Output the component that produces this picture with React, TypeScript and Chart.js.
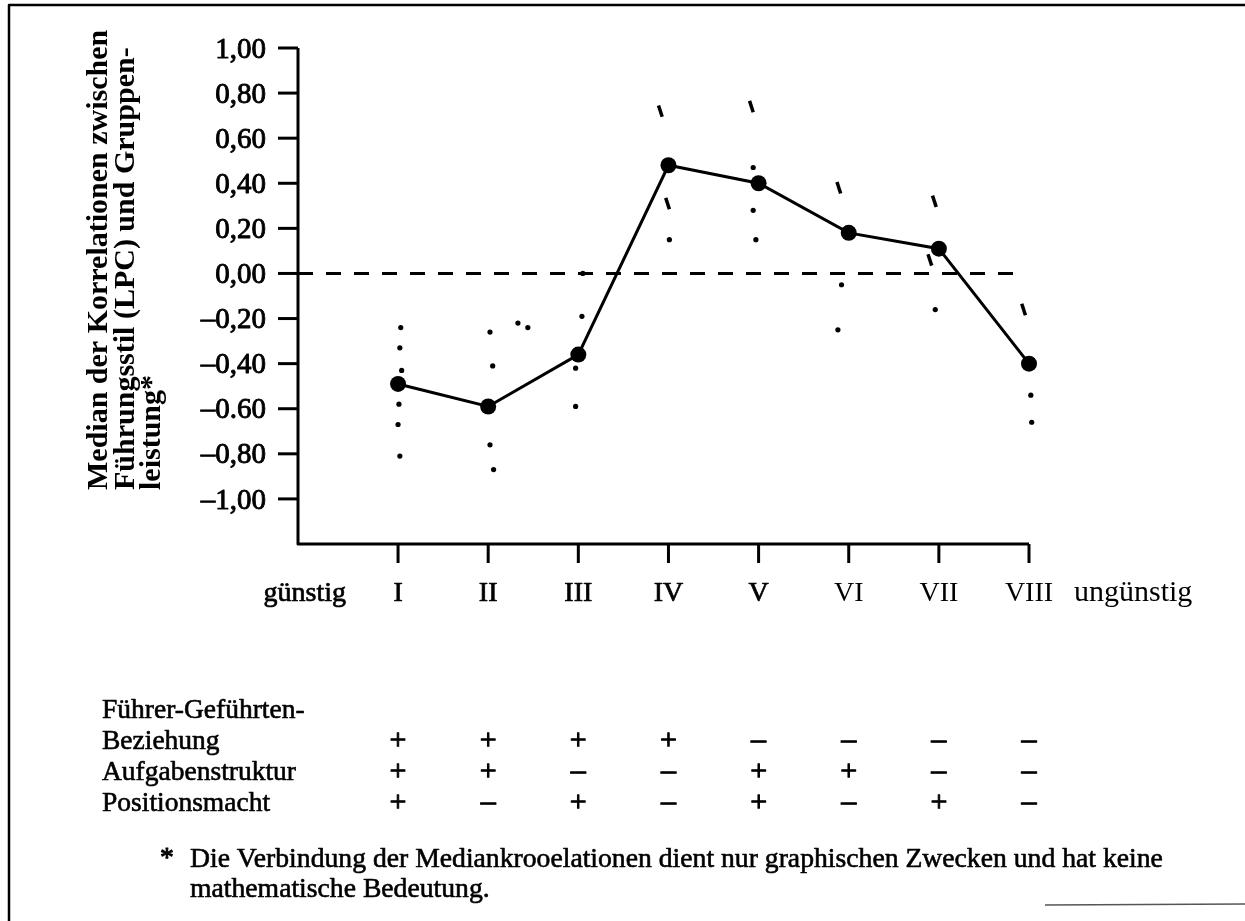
import React, { useEffect, useRef } from "react";
import { Chart, registerables } from "chart.js";

Chart.register(...registerables);

// ---------- data ----------
const categories = ["I", "II", "III", "IV", "V", "VI", "VII", "VIII"];
const categoryPositions = [1, 2, 3, 4, 5, 6, 7, 8];
const medians = [-0.49, -0.59, -0.36, 0.48, 0.4, 0.18, 0.11, -0.4];

// individual correlations (small dots)
const scatterDots = [
  { x: 1.03, y: -0.24 },
  { x: 1.02, y: -0.33 },
  { x: 1.04, y: -0.43 },
  { x: 1.01, y: -0.58 },
  { x: 1.0, y: -0.67 },
  { x: 1.02, y: -0.81 },
  { x: 2.02, y: -0.26 },
  { x: 2.05, y: -0.41 },
  { x: 2.02, y: -0.76 },
  { x: 2.06, y: -0.87 },
  { x: 2.33, y: -0.22 },
  { x: 2.44, y: -0.24 },
  { x: 3.04, y: -0.19 },
  { x: 2.97, y: -0.42 },
  { x: 2.97, y: -0.59 },
  { x: 3.05, y: 0.0 },
  { x: 4.01, y: 0.15 },
  { x: 4.94, y: 0.47 },
  { x: 4.94, y: 0.28 },
  { x: 4.97, y: 0.15 },
  { x: 5.92, y: -0.05 },
  { x: 5.88, y: -0.25 },
  { x: 6.96, y: -0.16 },
  { x: 8.02, y: -0.54 },
  { x: 8.03, y: -0.66 },
];
// individual correlations printed as short strokes
const scatterMarks = [
  { x: 3.91, y: 0.72 },
  { x: 3.99, y: 0.31 },
  { x: 4.92, y: 0.74 },
  { x: 5.89, y: 0.38 },
  { x: 6.95, y: 0.32 },
  { x: 6.9, y: 0.06 },
  { x: 7.94, y: -0.16 },
];

const zeroLine = [
  { x: -0.11, y: 0 },
  { x: 7.88, y: 0 },
];

const yTickValues = [1, 0.8, 0.6, 0.4, 0.2, 0, -0.2, -0.4, -0.6, -0.8, -1];
const yTickLabels = ["1,00", "0,80", "0,60", "0,40", "0,20", "0,00", "–0,20", "–0,40", "–0.60", "–0,80", "–1,00"];

const yTitleLines = [
  "Median der Korrelationen zwischen",
  "Führungsstil (LPC) und Gruppen-",
  "leistung*",
];
const leftEndLabel = "günstig";
const rightEndLabel = "ungünstig";

const tableRowLabels = ["Führer-Geführten-", "Beziehung", "Aufgabenstruktur", "Positionsmacht"];
const leaderMemberRelation = ["+", "+", "+", "+", "–", "–", "–", "–"];
const taskStructure = ["+", "+", "–", "–", "+", "+", "–", "–"];
const positionPower = ["+", "–", "+", "–", "+", "–", "+", "–"];

const footnoteMark = "*";
const footnoteLines = [
  "Die Verbindung der Mediankrooelationen dient nur graphischen Zwecken und hat keine",
  "mathematische Bedeutung.",
];

// ---------- layout constants ----------
const W = 1245;
const H = 921;
const SERIF = '"Liberation Serif", "DejaVu Serif", serif';

function inkText(ctx: CanvasRenderingContext2D, t: string, x: number, y: number, ink: number) {
  ctx.fillText(t, x, y);
  if (ink > 0) {
    ctx.lineWidth = ink;
    ctx.strokeText(t, x, y);
  }
}

const decorPlugin = {
  id: "decor",
  beforeDatasetsDraw(chart: any) {
    const ctx: CanvasRenderingContext2D = chart.ctx;
    const xs = chart.scales.x;
    const ys = chart.scales.y;
    const a = chart.chartArea;
    ctx.save();
    ctx.strokeStyle = "#000";
    ctx.fillStyle = "#000";
    ctx.lineCap = "butt";
    ctx.lineJoin = "round";

    // frame (scan border)
    ctx.lineWidth = 2.5;
    ctx.beginPath();
    ctx.moveTo(9, H);
    ctx.lineTo(9, 5);
    ctx.lineTo(W, 5);
    ctx.stroke();
    ctx.strokeStyle = "#555";
    ctx.lineWidth = 1.5;
    ctx.beginPath();
    ctx.moveTo(1045, 905);
    ctx.lineTo(W, 904);
    ctx.stroke();
    ctx.strokeStyle = "#000";

    // axes
    const xEnd = xs.getPixelForValue(categoryPositions[categoryPositions.length - 1]);
    const yTop = ys.getPixelForValue(yTickValues[0]);
    ctx.lineWidth = 3;
    ctx.beginPath();
    ctx.moveTo(a.left, yTop);
    ctx.lineTo(a.left, a.bottom);
    ctx.lineTo(xEnd, a.bottom);
    ctx.stroke();

    // y ticks + labels
    ctx.font = `29px ${SERIF}`;
    ctx.textAlign = "right";
    ctx.textBaseline = "middle";
    yTickValues.forEach((v, i) => {
      const py = ys.getPixelForValue(v);
      ctx.lineWidth = 3;
      ctx.beginPath();
      ctx.moveTo(a.left - 20, py);
      ctx.lineTo(a.left, py);
      ctx.stroke();
      inkText(ctx, yTickLabels[i], a.left - 32, py + 2, 0.9);
    });

    // x ticks + labels
    ctx.textAlign = "center";
    ctx.textBaseline = "alphabetic";
    ctx.font = `28px ${SERIF}`;
    categoryPositions.forEach((p, i) => {
      const px = xs.getPixelForValue(p);
      ctx.lineWidth = 3;
      ctx.beginPath();
      ctx.moveTo(px, a.bottom);
      ctx.lineTo(px, a.bottom + 19);
      ctx.stroke();
      inkText(ctx, categories[i], px, a.bottom + 57, i < 5 ? 0.7 : 0);
    });
    ctx.textAlign = "right";
    inkText(ctx, leftEndLabel, 346, a.bottom + 57, 0.7);
    ctx.textAlign = "left";
    ctx.font = `30px ${SERIF}`;
    ctx.fillText(rightEndLabel, 1074, a.bottom + 57);

    // y title (rotated)
    ctx.font = `bold 30px ${SERIF}`;
    ctx.textAlign = "left";
    const baseXs = [107, 134, 160];
    yTitleLines.forEach((t, i) => {
      ctx.save();
      ctx.translate(baseXs[i], 490);
      ctx.rotate(-Math.PI / 2);
      ctx.fillText(t, 0, 0);
      ctx.restore();
    });

    // condition table
    ctx.font = `27.5px ${SERIF}`;
    ctx.textAlign = "left";
    const rowBase = [718, 749, 780, 811];
    tableRowLabels.forEach((t, i) => inkText(ctx, t, 102, rowBase[i], 0.6));
    ctx.textAlign = "center";
    ctx.font = `30px ${SERIF}`;
    const rows = [leaderMemberRelation, taskStructure, positionPower];
    rows.forEach((r, ri) => {
      r.forEach((s, ci) => {
        const px = xs.getPixelForValue(categoryPositions[ci]);
        inkText(ctx, s, px, rowBase[ri + 1], 1);
      });
    });

    // footnote: fit first line to its printed width
    ctx.textAlign = "left";
    ctx.font = `24px ${SERIF}`;
    const w0 = ctx.measureText(footnoteLines[0]).width;
    const fs = (24 * 973) / w0;
    ctx.font = `${fs.toFixed(2)}px ${SERIF}`;
    inkText(ctx, footnoteMark, 160, 866, 1);
    inkText(ctx, footnoteLines[0], 190, 867, 0.6);
    inkText(ctx, footnoteLines[1], 190, 897, 0.6);

    ctx.restore();
  },
};

export default function App() {
  const ref = useRef<HTMLCanvasElement | null>(null);

  useEffect(() => {
    document.body.style.margin = "0";
    const canvas = ref.current;
    if (!canvas) return;
    const chart = new Chart(canvas, {
      type: "line",
      data: {
        datasets: [
          {
            type: "line",
            data: zeroLine,
            borderColor: "#000",
            borderWidth: 3,
            borderDash: [15, 13],
            pointRadius: 0,
            clip: false,
          } as any,
          {
            type: "scatter",
            data: scatterDots,
            pointRadius: 2.6,
            backgroundColor: "#000",
            borderColor: "#000",
            borderWidth: 0,
            clip: false,
          } as any,
          {
            type: "scatter",
            data: scatterMarks,
            pointStyle: "line",
            rotation: 72,
            pointRadius: 6,
            borderColor: "#000",
            borderWidth: 3.5,
            clip: false,
          } as any,
          {
            type: "line",
            data: medians.map((v, i) => ({ x: categoryPositions[i], y: v })),
            borderColor: "#000",
            borderWidth: 3,
            pointRadius: 8,
            pointBackgroundColor: "#000",
            pointBorderColor: "#000",
            pointBorderWidth: 0,
            tension: 0,
            clip: false,
          } as any,
        ],
      },
      options: {
        responsive: false,
        animation: false,
        devicePixelRatio: 1,
        layout: { padding: { left: 298, top: 48, right: W - 1029, bottom: H - 544 } },
        scales: {
          x: { type: "linear", min: -0.11, max: 8, display: false },
          y: { type: "linear", min: -1.2, max: 1, display: false },
        },
        plugins: { legend: { display: false }, tooltip: { enabled: false } },
        events: [],
      },
      plugins: [decorPlugin],
    } as any);
    return () => chart.destroy();
  }, []);

  return (
    <div style={{ position: "absolute", left: 0, top: 0, width: W, height: H, background: "#fff" }}>
      <canvas ref={ref} width={W} height={H} style={{ width: W, height: H, display: "block" }} />
    </div>
  );
}
